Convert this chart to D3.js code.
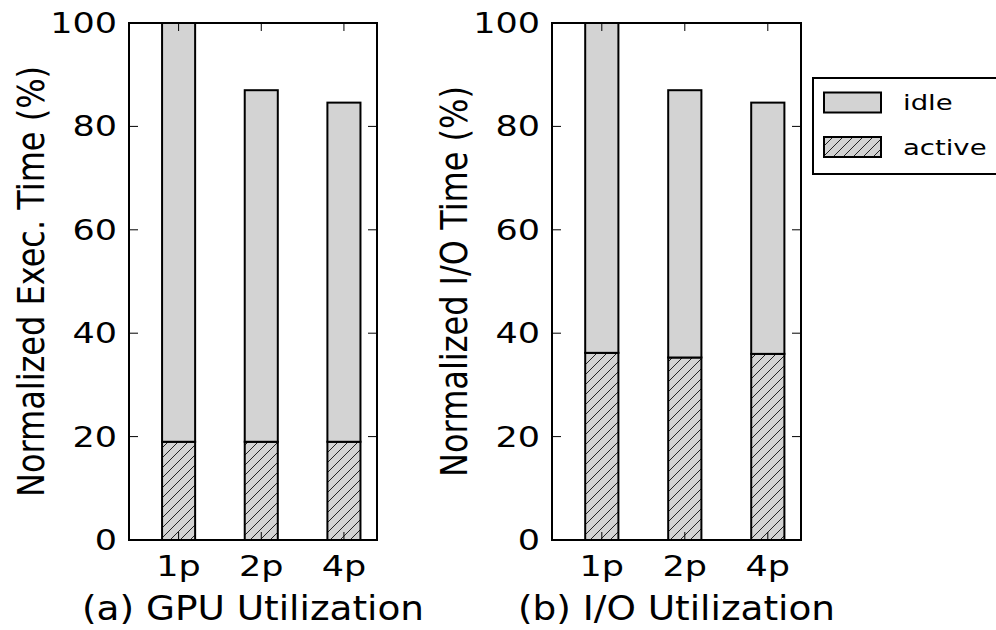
<!DOCTYPE html>
<html>
<head>
<meta charset="utf-8">
<script src="https://cdn.jsdelivr.net/npm/d3@7"></script>
<style>
  body { margin: 0; background: #fff; }
  text { font-family: "DejaVu Sans", sans-serif; fill: #000; }
</style>
</head>
<body>
<svg id="chart" width="996" height="630"></svg>
<script>
// Utilization breakdown per configuration (percent of normalized time)
const categories = ["1p", "2p", "4p"];
const gpuActive = [19.0, 19.0, 19.0];
const gpuIdle = [81.0, 68.0, 65.6];
const ioActive = [36.2, 35.3, 36.0];
const ioIdle = [63.8, 51.7, 48.6];
const yTicks = [0, 20, 40, 60, 80, 100];
const panelTitles = ["(a) GPU Utilization", "(b) I/O Utilization"];
const yLabels = ["Normalized Exec. Time (%)", "Normalized I/O Time (%)"];
const seriesKeys = ["active", "idle"];
const legendLabels = ["idle", "active"];

const svg = d3.select("#chart");
const TICK_FONT = 28, TICK_SX = 1.25;
const YLABEL_FONT = 32, YLABEL_SX = 1.15;
const TITLE_FONT = 34, TITLE_SX = 1.1;
const LEGEND_FONT = 22, LEGEND_SX = 1.25;
const FILL = "#d3d3d3";

// hatch pattern for the "active" segment
const defs = svg.append("defs");
const pat = defs.append("pattern")
  .attr("id", "hatch")
  .attr("patternUnits", "userSpaceOnUse")
  .attr("width", 10).attr("height", 10);
pat.append("rect").attr("width", 10).attr("height", 10).attr("fill", FILL);
pat.append("path")
  .attr("d", "M-2.5,2.5 L2.5,-2.5 M0,10 L10,0 M7.5,12.5 L12.5,7.5")
  .attr("stroke", "#222").attr("stroke-width", 1);

const fillFor = { active: "url(#hatch)", idle: FILL };

const panels = [
  { x0: 129, x1: 377, active: gpuActive, idle: gpuIdle, title: panelTitles[0], ylabel: yLabels[0] },
  { x0: 552, x1: 801, active: ioActive, idle: ioIdle, title: panelTitles[1], ylabel: yLabels[1] }
];
const yTop = 23, yBottom = 540;

// text widened horizontally by sx, optionally turned to read bottom-up
function stretched(sel, x, y, sx, rotate) {
  return sel.attr("transform",
    `translate(${x},${y}) scale(${sx},1)` + (rotate ? " rotate(-90)" : ""));
}

panels.forEach(p => {
  const g = svg.append("g");
  const x = d3.scaleLinear().domain([-0.6, 2.4]).range([p.x0, p.x1]);
  const y = d3.scaleLinear().domain([0, 100]).range([yBottom, yTop]);
  const barW = 0.4;

  const rows = categories.map((c, i) => ({ cat: c, i, active: p.active[i], idle: p.idle[i] }));
  const stacked = d3.stack().keys(seriesKeys)(rows);

  stacked.forEach(layer => {
    g.append("g").selectAll("rect")
      .data(layer)
      .join("rect")
      .attr("x", d => x(d.data.i - barW / 2))
      .attr("width", d => x(d.data.i + barW / 2) - x(d.data.i - barW / 2))
      .attr("y", d => y(d[1]))
      .attr("height", d => y(d[0]) - y(d[1]))
      .attr("fill", fillFor[layer.key])
      .attr("stroke", "#000")
      .attr("stroke-width", 2);
  });

  // frame
  g.append("rect")
    .attr("x", p.x0).attr("y", yTop)
    .attr("width", p.x1 - p.x0).attr("height", yBottom - yTop)
    .attr("fill", "none").attr("stroke", "#000").attr("stroke-width", 2);

  // inward ticks on all four sides
  const tk = g.append("g").attr("stroke", "#000").attr("stroke-width", 1);
  yTicks.forEach(t => {
    tk.append("line").attr("x1", p.x0).attr("x2", p.x0 + 9).attr("y1", y(t)).attr("y2", y(t));
    tk.append("line").attr("x1", p.x1).attr("x2", p.x1 - 9).attr("y1", y(t)).attr("y2", y(t));
  });
  categories.forEach((c, i) => {
    tk.append("line").attr("x1", x(i)).attr("x2", x(i)).attr("y1", yBottom).attr("y2", yBottom - 8);
    tk.append("line").attr("x1", x(i)).attr("x2", x(i)).attr("y1", yTop).attr("y2", yTop + 8);
  });

  // tick labels
  yTicks.forEach(t => {
    stretched(g.append("text"), p.x0 - 12, y(t), TICK_SX)
      .attr("text-anchor", "end").attr("dy", "0.36em")
      .style("font-size", TICK_FONT + "px").text(t);
  });
  categories.forEach((c, i) => {
    stretched(g.append("text"), x(i), 576, TICK_SX)
      .attr("text-anchor", "middle")
      .style("font-size", TICK_FONT + "px").text(c);
  });

  // axis label and panel caption
  stretched(g.append("text"), p.x0 - 85, (yTop + yBottom) / 2, YLABEL_SX, true)
    .attr("text-anchor", "middle")
    .style("font-size", YLABEL_FONT + "px").text(p.ylabel);
  stretched(g.append("text"), (p.x0 + p.x1) / 2, 619.5, TITLE_SX)
    .attr("text-anchor", "middle")
    .style("font-size", TITLE_FONT + "px").text(p.title);
});

// legend
const lg = svg.append("g");
lg.append("rect")
  .attr("x", 813).attr("y", 78).attr("width", 200).attr("height", 96)
  .attr("fill", "#fff").attr("stroke", "#000").attr("stroke-width", 2);
const legendFill = { idle: FILL, active: "url(#hatch)" };
legendLabels.forEach((k, i) => {
  const cy = 102.5 + i * 44.5;
  lg.append("rect")
    .attr("x", 824).attr("y", cy - 10).attr("width", 57).attr("height", 20)
    .attr("fill", legendFill[k]).attr("stroke", "#000").attr("stroke-width", 2);
  stretched(lg.append("text"), 903, cy, LEGEND_SX)
    .attr("dy", "0.36em")
    .style("font-size", LEGEND_FONT + "px").text(k);
});
</script>
</body>
</html>
